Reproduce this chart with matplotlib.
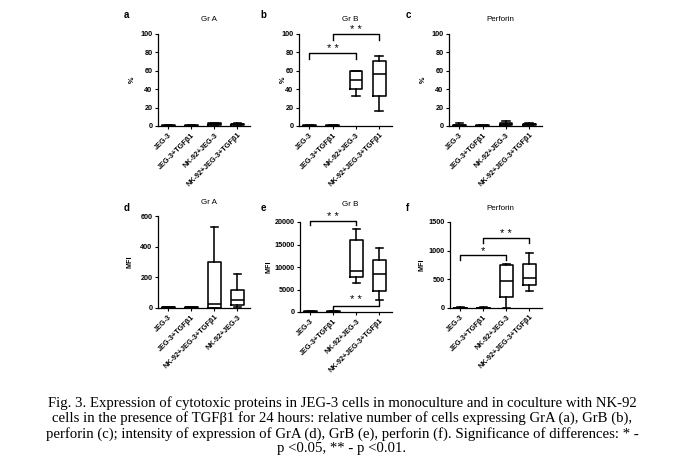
import matplotlib
matplotlib.use("Agg")
import matplotlib.pyplot as plt

# category labels (panel d has the last two swapped)
cats = ["JEG-3", "JEG-3+TGFβ1", "NK-92+JEG-3", "NK-92+JEG-3+TGFβ1"]
cats_d = ["JEG-3", "JEG-3+TGFβ1", "NK-92+JEG-3+TGFβ1", "NK-92+JEG-3"]

# box stats per category: [whislo, q1, med, q3, whishi]
gra_pct = [[0.2, 0.3, 0.5, 0.7, 1.0], [0.2, 0.3, 0.5, 0.7, 1.0],
           [0.8, 1.5, 2.2, 2.8, 3.2], [0.8, 1.3, 2.0, 2.5, 2.8]]
grb_pct = [[0.3, 0.4, 0.5, 0.7, 0.9], [0.3, 0.4, 0.5, 0.7, 0.9],
           [33, 40, 50, 59.5, 59.5], [16.5, 33, 57, 70.5, 76]]
perf_pct = [[0.0, 0.3, 0.8, 1.5, 3.5], [0.2, 0.3, 0.5, 0.7, 1.0],
            [0.5, 1.0, 2.5, 3.5, 5.5], [0.8, 1.0, 1.8, 2.3, 3.0]]
gra_mfi = [[2, 3, 4, 5, 6], [2, 3, 4, 5, 6],
           [0, 2, 28, 300, 528], [6, 17, 54, 120, 222]]
grb_mfi = [[50, 80, 100, 130, 160], [50, 80, 100, 130, 160],
           [6520, 7700, 9040, 16070, 18520], [2670, 4670, 8370, 11480, 14220]]
perf_mfi = [[2, 4, 6, 8, 10], [2, 4, 6, 8, 10],
            [0, 192, 477, 744, 762], [291, 407, 523, 762, 965]]

W, H = 684, 469


def px_axes(fig, left, right, top, bottom):
    return fig.add_axes([left / W, 1 - bottom / H, (right - left) / W, (bottom - top) / H])


def draw_panel(ax, stats, labels, ymax, yticks, ylabel, title, letter, lab_x, fig, letter_xy, title_y):
    bxp_stats = []
    for s in stats:
        bxp_stats.append(dict(whislo=s[0], q1=s[1], med=s[2], q3=s[3], whishi=s[4], fliers=[]))
    lw = 1.15
    ax.bxp(bxp_stats, positions=range(len(stats)), widths=0.55, showfliers=False,
           boxprops=dict(color="black", linewidth=lw),
           medianprops=dict(color="black", linewidth=lw),
           whiskerprops=dict(color="black", linewidth=lw),
           capprops=dict(color="black", linewidth=lw), capwidths=0.33)
    ax.set_xlim(-0.45, 3.55)
    ax.set_ylim(0, ymax)
    ax.set_yticks(yticks)
    ax.set_xticks(range(len(labels)))
    ax.set_xticklabels(labels, rotation=45, ha="right", rotation_mode="anchor",
                       fontsize=5.2, fontweight="bold")
    for t in ax.get_yticklabels():
        t.set_fontsize(5.2)
        t.set_fontweight("bold")
    ax.spines["top"].set_visible(False)
    ax.spines["right"].set_visible(False)
    ax.spines["left"].set_linewidth(0.9)
    ax.spines["bottom"].set_linewidth(0.9)
    ax.spines["left"].set_bounds(0, ymax)
    ax.tick_params(length=2.5, width=0.8, pad=1.5)
    ax.set_ylabel(ylabel, fontsize=5.2, fontweight="bold")
    ax.yaxis.set_label_coords(lab_x, 0.5)
    ax.patch.set_visible(False)
    fig.text(letter_xy[0] / W, 1 - letter_xy[1] / H, letter, fontsize=7, fontweight="bold",
             ha="center", va="center")
    ax.text(0.55, title_y, title, transform=ax.transAxes, fontsize=5.8,
            ha="center", va="center")


def bracket(ax, x1, x2, y, drop, label, ymax, flip=False, y_end2=None):
    d = drop * ymax
    if not flip:
        ax.plot([x1, x1, x2, x2], [y - d, y, y, y - d], color="black", lw=1.0, clip_on=False)
        ax.text((x1 + x2) / 2, y + 0.045 * ymax, label, ha="center", va="center", fontsize=8,
                clip_on=False)
    else:
        ax.plot([x1, x1, x2, x2], [y - d, y, y, y_end2], color="black", lw=1.0, clip_on=False)
        ax.text((x1 + x2) / 2, y + 0.065 * ymax, label, ha="center", va="center", fontsize=8,
                clip_on=False)


fig = plt.figure(figsize=(W / 100, H / 100), dpi=100)
plt.rcParams["font.family"] = ["Liberation Sans", "DejaVu Sans"]

pct_ticks = [0, 20, 40, 60, 80, 100]

ax_a = px_axes(fig, 158, 250, 34, 126)
draw_panel(ax_a, gra_pct, cats, 100, pct_ticks, "%", "Gr A", "a", -0.24, fig, (126, 15), 1.16)

ax_b = px_axes(fig, 299, 392, 34, 126)
draw_panel(ax_b, grb_pct, cats, 100, pct_ticks, "%", "Gr B", "b", -0.13, fig, (263, 15), 1.16)
bracket(ax_b, 0, 2, 79, 0.06, "* *", 100)
bracket(ax_b, 1, 3, 100, 0.06, "* *", 100)

ax_c = px_axes(fig, 449, 542, 34, 126)
draw_panel(ax_c, perf_pct, cats, 100, pct_ticks, "%", "Perforin", "c", -0.24, fig, (408, 15), 1.16)

ax_d = px_axes(fig, 158, 250, 216, 308)
draw_panel(ax_d, gra_mfi, cats_d, 600, [0, 200, 400, 600], "MFI", "Gr A", "d", -0.27, fig,
           (127, 208), 1.15)

ax_e = px_axes(fig, 300, 392, 222, 312)
draw_panel(ax_e, grb_mfi, cats, 20000, [0, 5000, 10000, 15000, 20000], "MFI", "Gr B", "e",
           -0.30, fig, (263, 208), 1.19)
bracket(ax_e, 0, 2, 20300, 0.045, "* *", 20000)
bracket(ax_e, 1, 3, 1340, 0.05, "* *", 20000, flip=True, y_end2=2600)

ax_f = px_axes(fig, 450, 542, 222, 308)
draw_panel(ax_f, perf_mfi, cats, 1500, [0, 500, 1000, 1500], "MFI", "Perforin", "f", -0.27, fig,
           (407, 208), 1.16)
bracket(ax_f, 0, 2, 919, 0.06, "*", 1500)
bracket(ax_f, 1, 3, 1227, 0.06, "* *", 1500)

caption = ("Fig. 3. Expression of cytotoxic proteins in JEG-3 cells in monoculture and in coculture with NK-92\n"
           "cells in the presence of TGFβ1 for 24 hours: relative number of cells expressing GrA (a), GrB (b),\n"
           "perforin (c); intensity of expression of GrA (d), GrB (e), perforin (f). Significance of differences: * -\n"
           "p <0.05, ** - p <0.01.")
fig.text(342 / W, 1 - 425.5 / H, caption, ha="center", va="center", fontsize=10.6,
         family=["Liberation Serif", "DejaVu Serif"], linespacing=1.14)

fig.savefig("out.png", dpi=100, facecolor="white")
